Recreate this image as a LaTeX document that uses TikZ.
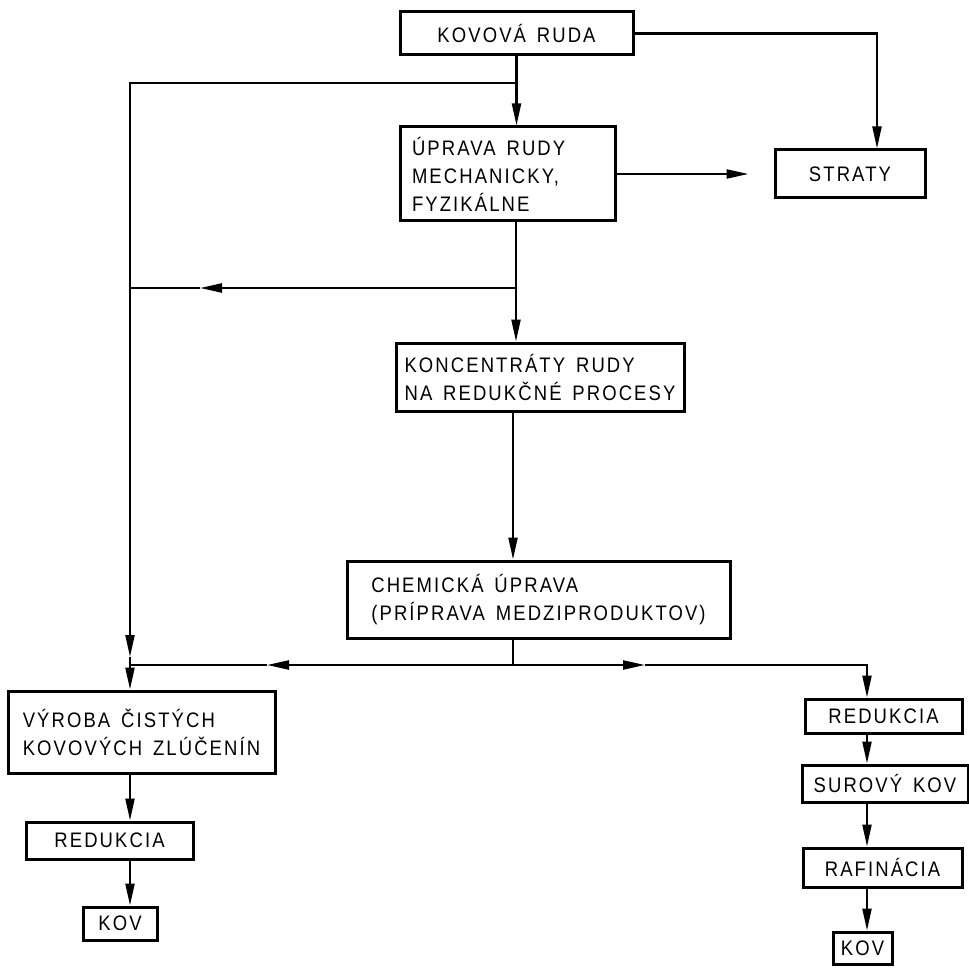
\documentclass[tikz,border=0pt]{standalone}
\usepackage{fontspec}
\setmainfont{Liberation Sans}[FakeStretch=0.88, LetterSpace=10, WordSpace=1.5]
\usetikzlibrary{arrows.meta}

\tikzset{
  blok/.style={draw, line width=3pt, align=left, inner xsep=6pt, inner ysep=4pt,
    font=\fontsize{21}{28}\selectfont},
  ciara/.style={line width=2.2pt},
  sipka/.style={ciara, -{Triangle[length=22pt,width=9pt]}},
}

\begin{document}
\begin{tikzpicture}[x=1pt,y=-1pt]
\useasboundingbox (0,0) rectangle (969,968);

% Main column
\node[blok, minimum width=233pt, minimum height=43pt] (ruda) at (516.5,33.5) {KOVOVÁ RUDA};
\node[blok, align=flush left, text width=191pt, inner xsep=12pt, minimum height=94pt] (uprava) at (507.5,174) {ÚPRAVA RUDY\\MECHANICKY,\\FYZIKÁLNE};
\node[blok, minimum width=150pt, minimum height=48pt] (straty) at (850,174) {STRATY};
\node[blok, minimum width=288pt, minimum height=68pt] (konc) at (540,377) {KONCENTRÁTY RUDY\\NA REDUKČNÉ PROCESY};
\node[blok, minimum width=383pt, minimum height=77pt] (chem) at (538.5,599.5) {CHEMICKÁ ÚPRAVA\\(PRÍPRAVA MEDZIPRODUKTOV)};

% Left branch
\node[blok, minimum width=267pt, minimum height=82pt] (vyroba) at (141.5,732) {VÝROBA ČISTÝCH\\KOVOVÝCH ZLÚČENÍN};
\node[blok, minimum width=167pt, minimum height=37pt] (red1) at (109.5,840.5) {REDUKCIA};
\node[blok, minimum width=74pt, minimum height=33pt] (kov1) at (120,923.5) {KOV};

% Right branch
\node[blok, minimum width=157pt, minimum height=34pt] (red2) at (883.5,716) {REDUKCIA};
\node[blok, minimum width=166pt, minimum height=37pt] (surovy) at (885,783.5) {SUROVÝ KOV};
\node[blok, minimum width=159pt, minimum height=39pt] (rafin) at (882.5,867.5) {RAFINÁCIA};
\node[blok, minimum width=59pt, minimum height=32pt] (kov2) at (862.5,948) {KOV};

% Junctions
\coordinate (j1) at (516,83);
\coordinate (j2) at (516,288);
\coordinate (j3) at (513,665);
\coordinate (j4) at (130,665);
\coordinate (lm) at (130,288);
\coordinate (lv) at (130,657);
\coordinate (pj2) at (200,288);
\coordinate (pl) at (267,665);
\coordinate (pr) at (645,665);
\coordinate (rc) at (867,665);

% Connectors of the main column
\draw[sipka] (ruda.south) -- (ruda.south |- uprava.north);
\draw[sipka] (ruda.east) -| ([xshift=27pt]straty.north);
\draw[sipka] (uprava.east) -- ([xshift=-25pt]straty.west);
\draw[sipka] (uprava.south -| j1) -- (konc.north -| j1);
\draw[sipka] (konc.south -| j3) -- (chem.north -| j3);
\draw[ciara] (chem.south -| j3) -- (j3);

% Bypass lines on the left
\draw[sipka] (j1) -| (lv);
\draw[ciara] (lv) -- (j4);
\draw[sipka] (j2) -- (pj2);
\draw[ciara] (pj2) -- (lm);

% Split below chemical treatment
\draw[sipka] (j3) -- (pl);
\draw[ciara] (pl) -- (j4);
\draw[sipka] (j3) -- (pr);
\draw[sipka] (pr) -| (red2.north -| rc);

% Left column
\draw[sipka] (j4) -- (j4 |- vyroba.north);
\draw[sipka] (vyroba.south -| j4) -- (red1.north -| j4);
\draw[sipka] (red1.south -| j4) -- (kov1.north -| j4);

% Right column
\draw[sipka] (red2.south -| rc) -- (surovy.north -| rc);
\draw[sipka] (surovy.south -| rc) -- (rafin.north -| rc);
\draw[sipka] (rafin.south -| rc) -- (kov2.north -| rc);
\end{tikzpicture}
\end{document}
